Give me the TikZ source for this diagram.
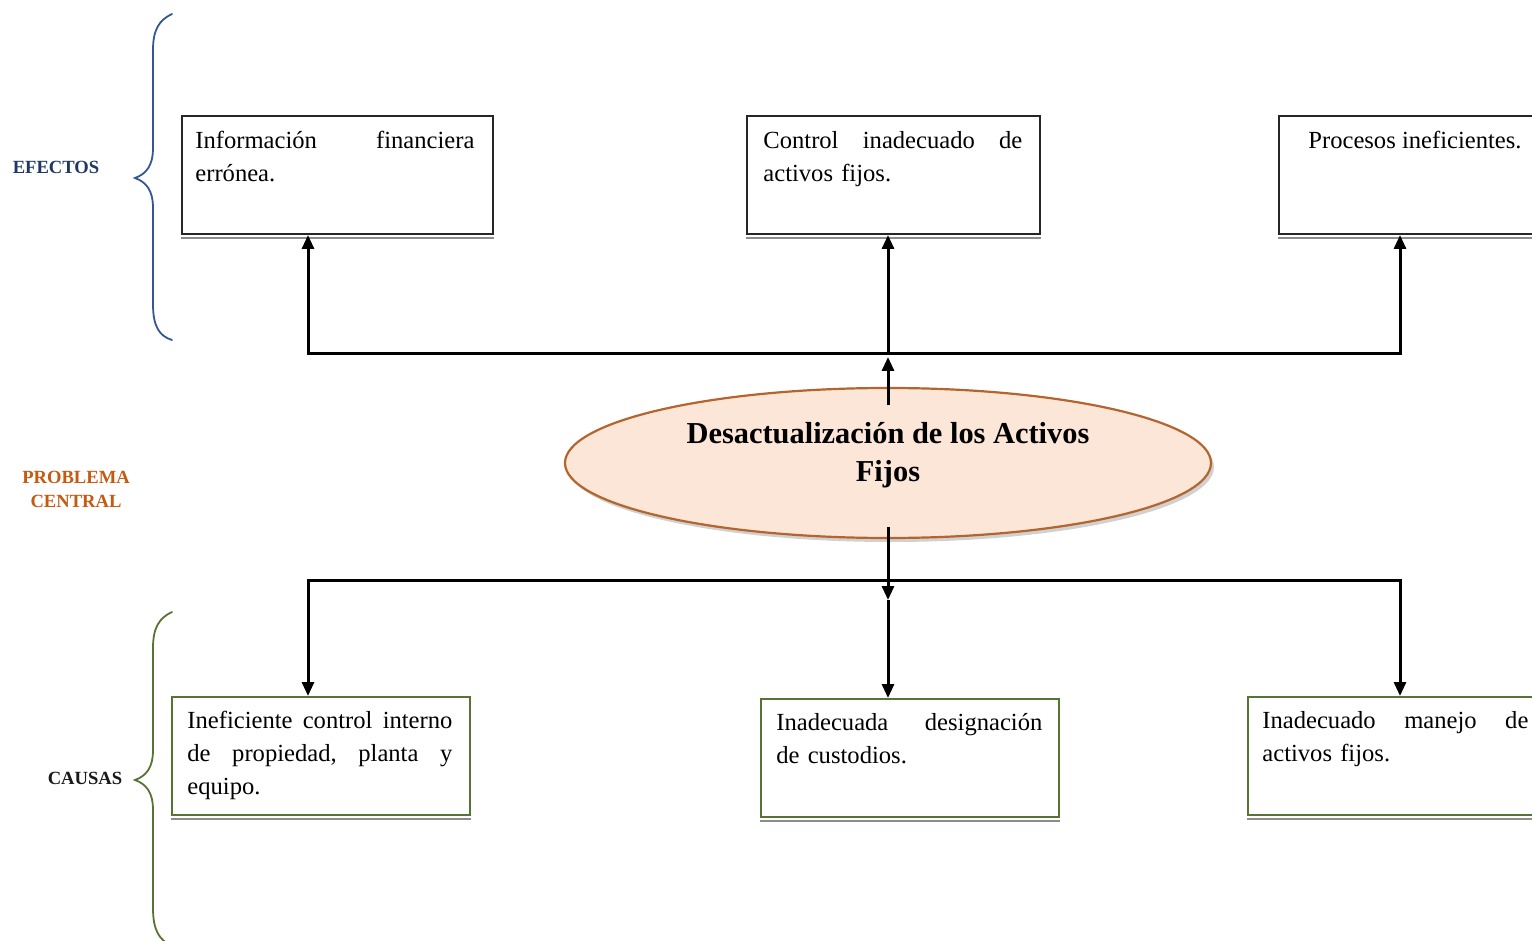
\documentclass[tikz,border=0pt]{standalone}
\usepackage{fontspec}
\setmainfont{Liberation Serif}
\usetikzlibrary{arrows.meta,shapes.geometric,shadows}

\definecolor{effblue}{RGB}{31,56,100}
\definecolor{bracelblue}{RGB}{52,86,145}
\definecolor{probbrown}{RGB}{197,90,17}
\definecolor{causegreen}{RGB}{88,116,52}
\definecolor{peach}{RGB}{252,230,216}
\definecolor{peachedge}{RGB}{180,100,45}

\tikzset{
  effbox/.style={draw=black!85, line width=1pt, fill=white, anchor=north west,
    inner sep=0pt, minimum height=59pt},
  causebox/.style={draw=causegreen, line width=1pt, fill=white, anchor=north west,
    inner sep=0pt, minimum height=59pt},
  boxshade/.style={draw=black!45, line width=1pt},
  btext/.style={anchor=north west, inner sep=0pt, align=left,
    font=\fontsize{12.3}{16.5}\selectfont},
  problem/.style={ellipse, draw=peachedge, line width=1.1pt, fill=peach,
    minimum width=323pt, minimum height=75pt, inner sep=0pt, align=center,
    font=\bfseries\fontsize{15.2}{19}\selectfont,
    drop shadow={shadow xshift=1.5pt, shadow yshift=-2pt, fill=black!40, opacity=0.45}},
  link/.style={line width=1.5pt, line join=miter},
  arr/.style={link, -{Triangle[length=7pt,width=6pt]}},
  sidelabel/.style={font=\bfseries\fontsize{9.3}{12}\selectfont, align=center, inner sep=0pt},
  brace/.style={line width=0.9pt, line cap=round}
}

\begin{document}
\begin{tikzpicture}[x=0.5pt, y=-0.5pt]
  \useasboundingbox (0,0) rectangle (1532,941);

  % effect boxes (top row)
  \node[effbox, minimum width=155.5pt] (b1) at (181,115) {};
  \node[effbox, minimum width=146.5pt] (b2) at (746,115) {};
  \node[effbox, minimum width=155.5pt] (b3) at (1278,115) {};
  % cause boxes (bottom row)
  \node[causebox, minimum width=149pt] (b4) at (171,696) {};
  \node[causebox, minimum width=149pt] (b5) at (760,698) {};
  \node[causebox, minimum width=149pt] (b6) at (1247,696) {};

  % second line under every box
  \foreach \b in {b1,b2,b3,b4,b5,b6}
    \draw[boxshade] ([yshift=-1.5pt]\b.south west) -- ([yshift=-1.5pt]\b.south east);

  % box texts
  \node[btext, text width=139.5pt] (t1) at ([shift={(14,15)}]b1.north west)
    {\rule{0pt}{9pt}Información\hfill financiera\\\mbox{errónea.}};
  \node[btext, text width=129.5pt] (t2) at ([shift={(17,15)}]b2.north west)
    {\rule{0pt}{9pt}Control\hfill inadecuado\hfill de\\\mbox{activos fijos.}};
  \node[btext] (t3) at ([shift={(30,15)}]b3.north west)
    {\rule{0pt}{9pt}\mbox{Procesos ineficientes.}};
  \node[btext, text width=132.5pt] (t4) at ([shift={(16,14)}]b4.north west)
    {\rule{0pt}{9pt}Ineficiente\hfill control\hfill interno\\de\hfill propiedad,\hfill planta\hfill y\\\mbox{equipo.}};
  \node[btext, text width=133pt] (t5) at ([shift={(16,14)}]b5.north west)
    {\rule{0pt}{9pt}Inadecuada\hfill designación\\\mbox{de custodios.}};
  \node[btext, text width=133pt] (t6) at ([shift={(15,14)}]b6.north west)
    {\rule{0pt}{9pt}Inadecuado\hfill manejo\hfill de\\\mbox{activos fijos.}};

  % central problem
  \node[problem] (ell) at (888,463)
    {Desactualización de los Activos\\Fijos\rule[-11pt]{0pt}{11pt}};

  % junction lines
  \coordinate (tl) at (308,354);
  \coordinate (tr) at (1400,354);
  \coordinate (tj) at (ell.north |- tl);
  \coordinate (bl) at (308,580);
  \coordinate (br) at (1400,580);
  \coordinate (bj) at (ell.south |- bl);

  % effects: problem -> top boxes
  \draw[arr] ([yshift=-9pt]ell.north) -- ([yshift=-1.5pt]tj);
  \draw[arr] (tj) -- (tj |- b2.south);
  \draw[arr] (tj) -- (tl) -- (tl |- b1.south);
  \draw[arr] (tj) -- (tr) -- (tr |- b3.south);

  % causes: problem -> bottom boxes
  \draw[arr] ([yshift=6pt]ell.south) -- ([yshift=-10pt]bj);
  \draw[arr] ([yshift=-10pt]bj) -- (bj |- b5.north);
  \draw[arr] (bj) -- (bl) -- (bl |- b4.north);
  \draw[arr] (bj) -- (br) -- (br |- b6.north);

  % braces
  \draw[brace, draw=bracelblue] (172,14) .. controls (159,20) and (153,30) .. (153,50)
    -- (153,148) .. controls (153,166) and (146,174) .. (135,178)
    .. controls (146,182) and (153,190) .. (153,208)
    -- (153,304) .. controls (153,326) and (159,336) .. (172,340);
  \draw[brace, draw=causegreen] (172,612) .. controls (159,618) and (153,628) .. (153,648)
    -- (153,750) .. controls (153,768) and (146,776) .. (135,780)
    .. controls (146,784) and (153,792) .. (153,810)
    -- (153,908) .. controls (153,930) and (159,940) .. (172,946);

  % side labels
  \node[sidelabel, text=effblue] (lef) at (56,167) {EFECTOS};
  \node[sidelabel, text=probbrown] (lpc) at (76,489) {PROBLEMA\\CENTRAL};
  \node[sidelabel, text=black!90] (lca) at (85,778) {CAUSAS};
\end{tikzpicture}
\end{document}
